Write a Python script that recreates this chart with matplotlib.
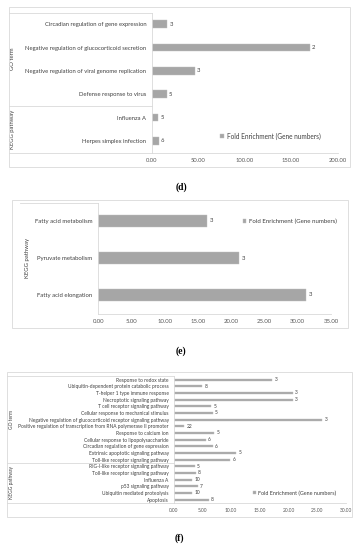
import matplotlib
matplotlib.use('Agg')
import matplotlib.pyplot as plt
from matplotlib.patches import Rectangle

plt.rcParams['font.family'] = ['Lato', 'DejaVu Sans']

W, H = 363, 550
BAR = '#a6a6a6'
GRID = '#d9d9d9'
TXT = '#404040'

# panel (d)
d_terms = ['Circadian regulation of gene expression',
           'Negative regulation of glucocorticoid secretion',
           'Negative regulation of viral genome replication',
           'Defense response to virus',
           'Influenza A',
           'Herpes simplex infection']
d_vals = [16.5, 170, 46, 16, 6.5, 7.2]
d_genes = [3, 2, 3, 5, 5, 6]
d_groups = [('GO term', 0, 3), ('KEGG pathway', 4, 5)]

# panel (e)
e_terms = ['Fatty acid metabolism', 'Pyruvate metabolism', 'Fatty acid elongation']
e_vals = [16.4, 21.2, 31.2]
e_genes = [3, 3, 3]

# panel (f)
f_terms = ['Response to redox state',
           'Ubiquitin-dependent protein catabolic process',
           'T-helper 1 type immune response',
           'Necroptotic signaling pathway',
           'T cell receptor signaling pathway',
           'Cellular response to mechanical stimulus',
           'Negative regulation of glucocorticoid receptor signaling pathway',
           'Positive regulation of transcription from RNA polymerase II promoter',
           'Response to calcium ion',
           'Cellular response to lipopolysaccharide',
           'Circadian regulation of gene expression',
           'Extrinsic apoptotic signaling pathway',
           'Toll-like receptor signaling pathway',
           'RIG-I-like receptor signaling pathway',
           'Toll-like receptor signaling pathway',
           'Influenza A',
           'p53 signaling pathway',
           'Ubiquitin mediated proteolysis',
           'Apoptosis']
f_vals = [17.2, 5.0, 20.7, 20.7, 6.6, 6.8, 25.9, 1.9, 7.1, 5.6, 6.8, 10.9, 9.9,
          3.7, 3.9, 3.3, 4.2, 3.3, 6.2]
f_genes = [3, 8, 3, 3, 5, 5, 3, 22, 5, 6, 6, 5, 6, 5, 8, 10, 7, 10, 8]
f_groups = [('GO term', 0, 12), ('KEGG pathway', 13, 18)]

fig = plt.figure(figsize=(W / 100, H / 100), dpi=100)


def px_axes(l, t, r, b):
    return fig.add_axes([l / W, 1 - b / H, (r - l) / W, (b - t) / H])


def box(l, t, r, b):
    fig.add_artist(Rectangle((l / W, 1 - b / H), (r - l) / W, (b - t) / H,
                             transform=fig.transFigure, fill=False,
                             edgecolor=GRID, lw=0.6))


def panel(ax, terms, vals, genes, xmax, step, fs, lab_left, groups=None,
          leg_xy=(0.5, 0.1), leg_fs=4, grp_x=None, grp_fs=None):
    y = list(range(len(terms)))
    bars = ax.barh(y, vals, height=0.34, color=BAR, edgecolor='#bfbfbf', lw=0.3,
                   label='Fold Enrichment (Gene numbers)')
    ax.set_ylim(len(terms) - 0.5, -0.5)
    ax.set_xlim(0, xmax)
    ticks = [i * step for i in range(int(round(xmax / step)) + 1)]
    ax.set_xticks(ticks)
    ax.set_xticklabels(['%.2f' % t for t in ticks], fontsize=fs, color='#595959')
    ax.set_yticks(y)
    ax.set_yticklabels(terms, fontsize=fs, color=TXT)
    ax.tick_params(length=0, pad=fs * 1.0)
    for s in ['top', 'right']:
        ax.spines[s].set_visible(False)
    for s in ['left', 'bottom']:
        ax.spines[s].set_color(GRID)
        ax.spines[s].set_linewidth(0.6)
    for b, g in zip(bars, genes):
        ax.text(b.get_width() + xmax * 0.012, b.get_y() + b.get_height() / 2, str(g),
                fontsize=fs, color=TXT, va='center', ha='left')
    tr = ax.get_yaxis_transform()
    # header line of the category label area
    ax.plot([lab_left, 0], [-0.5, -0.5], transform=tr, color=GRID, lw=0.6, clip_on=False)
    if groups:
        ax.plot([lab_left, 0], [len(terms) - 0.5] * 2, transform=tr, color=GRID,
                lw=0.6, clip_on=False)
        for k, (name, a, z) in enumerate(groups):
            ax.text(grp_x, (a + z) / 2, name, transform=tr, rotation=90,
                    ha='center', va='center', fontsize=grp_fs, color=TXT)
            if k < len(groups) - 1:
                ax.plot([lab_left, 0], [z + 0.5, z + 0.5], transform=tr, color=GRID,
                        lw=0.6, clip_on=False)
    leg = ax.legend(loc='center left', bbox_to_anchor=leg_xy, frameon=False,
                    fontsize=leg_fs, handlelength=0.6, handleheight=0.6,
                    handletextpad=0.4, borderpad=0, borderaxespad=0)
    for t in leg.get_texts():
        t.set_color(TXT)


# (d)
box(9, 7, 350, 167)
ax_d = px_axes(152, 12.5, 337.5, 152.5)
panel(ax_d, d_terms, d_vals, d_genes, 200, 50, 4.2, (9 - 152) / 185.5, d_groups,
      leg_xy=(0.368, 0.118), leg_fs=4.7, grp_x=(13 - 152) / 185.5, grp_fs=4.2)
fig.text(181 / W, 1 - 187 / H, '(d)', family='Liberation Serif', weight='bold',
         fontsize=7, ha='center', va='center')

# (e)
box(12, 200, 348, 328)
ax_e = px_axes(98.3, 202.5, 331, 313.5)
panel(ax_e, e_terms, e_vals, e_genes, 35, 5, 4.3, (20 - 98.3) / 232.7,
      leg_xy=(0.62, 0.833), leg_fs=4.4)
ax_e.text((27 - 98.3) / 232.7, 1, 'KEGG pathway', transform=ax_e.get_yaxis_transform(),
          rotation=90, ha='center', va='center', fontsize=4.3, color=TXT)
fig.text(181 / W, 1 - 351 / H, '(e)', family='Liberation Serif', weight='bold',
         fontsize=7, ha='center', va='center')

# (f)
box(7, 372, 352, 517)
ax_f = px_axes(173.5, 376.3, 346, 503)
panel(ax_f, f_terms, f_vals, f_genes, 30, 5, 3.5, (7 - 173.5) / 172.5, f_groups,
      leg_xy=(0.46, 0.079), leg_fs=3.9, grp_x=(12 - 173.5) / 172.5, grp_fs=3.5)
fig.text(179 / W, 1 - 538.5 / H, '(f)', family='Liberation Serif', weight='bold',
         fontsize=7, ha='center', va='center')

fig.savefig('out.png', dpi=100)
